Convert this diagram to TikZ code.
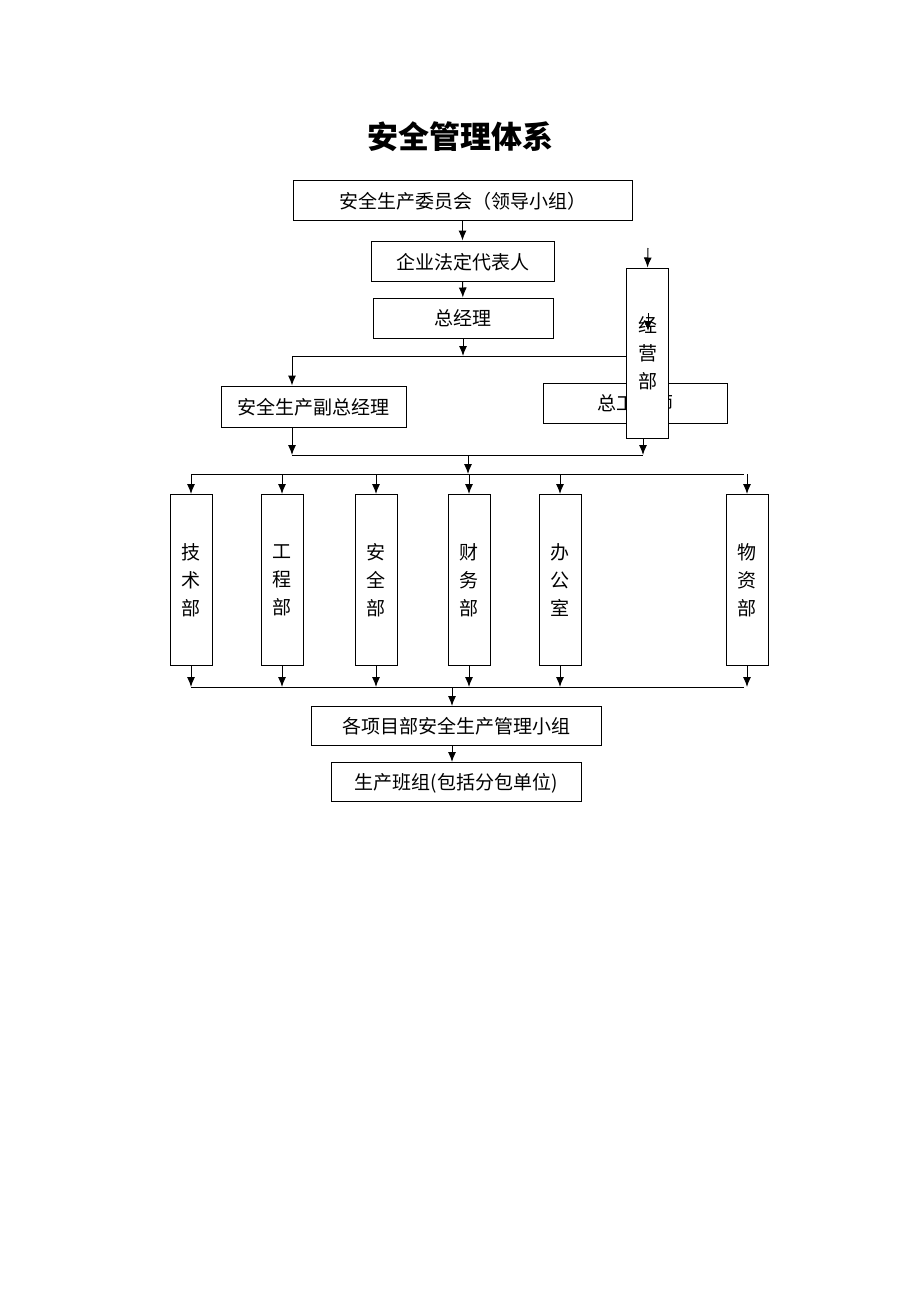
\documentclass[tikz,border=0pt]{standalone}
\usepackage{fontspec}
\setmainfont{Noto Sans CJK SC}
\usetikzlibrary{arrows.meta}
\begin{document}
\begin{tikzpicture}[x=1pt,y=-1pt]
\tikzstyle{box}=[draw,line width=1pt,fill=white,text depth=-2pt,font=\fontsize{19}{19}\selectfont]
\tikzstyle{dept}=[draw,line width=1pt,fill=white,minimum width=42pt,minimum height=171pt,align=center,font=\fontsize{19}{28}\selectfont]
\tikzstyle{arr}=[line width=1pt,-{Latex[length=10pt,width=8pt]}]
\useasboundingbox (0,0) rectangle (920,1302);
\node (title) at (460,137) {\fontsize{31}{31}\selectfont\bfseries 安全管理体系};
\node[box,minimum width=339pt,minimum height=40pt] (wyh) at (462.5,200) {安全生产委员会（领导小组）};
\node[box,minimum width=183pt,minimum height=40pt] (fr) at (462.5,261) {企业法定代表人};
\node[box,minimum width=180pt,minimum height=40pt] (zjl) at (463,318) {总经理};
\node[box,minimum width=185pt,minimum height=41pt] (fz) at (313.5,406.5) {安全生产副总经理};
\node[box,minimum width=184pt,minimum height=40pt] (zgs) at (635,403) {总工程师};
\coordinate (l1a) at (292,356);
\coordinate (l1b) at (627,356);
\draw[line width=1pt] (l1a) -- (l1b);
\node[dept,minimum height=170pt] (jy) at (647.5,353) {经\\营\\部};
\coordinate (jytop) at (648,248);
\coordinate (jyin) at (648,313);
\coordinate (jyin2) at (648,331);
\draw[arr] (jytop) -- (jy.north);
\draw[arr] (jyin) -- (jyin2);
\draw[arr] (wyh) -- (fr);
\draw[arr] (fr) -- (zjl);
\draw[arr] (zjl.south) -- (463,356);
\draw[arr] (l1a) -- (fz.north -| l1a);
% 部门
\coordinate (l2a) at (292,455);
\coordinate (l2b) at (643,455);
\draw[line width=1pt] (l2a) -- (l2b);
\draw[arr] (fz.south -| l2a) -- (l2a);
\draw[arr] (jy.south -| l2b) -- (l2b);
\coordinate (l3a) at (191,474);
\coordinate (l3b) at (744,474);
\coordinate (l4a) at (191,687);
\coordinate (l4b) at (744,687);
\draw[line width=1pt] (l3a) -- (l3b);
\draw[line width=1pt] (l4a) -- (l4b);
\draw[arr] (468,455) -- (468,474);
\foreach \n/\x/\t in {js/191/技\\术\\部, gc/282/工\\程\\部, aq/376/安\\全\\部, cw/469/财\\务\\部, bg/560/办\\公\\室, wz/747/物\\资\\部}{
  \node[dept] (\n) at (\x,580) {\t};
  \draw[arr] (\n.north |- l3a) -- (\n.north);
  \draw[arr] (\n.south) -- (\n.south |- l4a);
}
\node[box,minimum width=290pt,minimum height=39pt] (xm) at (456,725.5) {各项目部安全生产管理小组};
\node[box,minimum width=250pt,minimum height=39pt] (bz) at (456,781.5) {生产班组(包括分包单位)};
\draw[arr] (452,687) -- (452,706);
\draw[arr] (452,745) -- (452,762);
\end{tikzpicture}
\end{document}
